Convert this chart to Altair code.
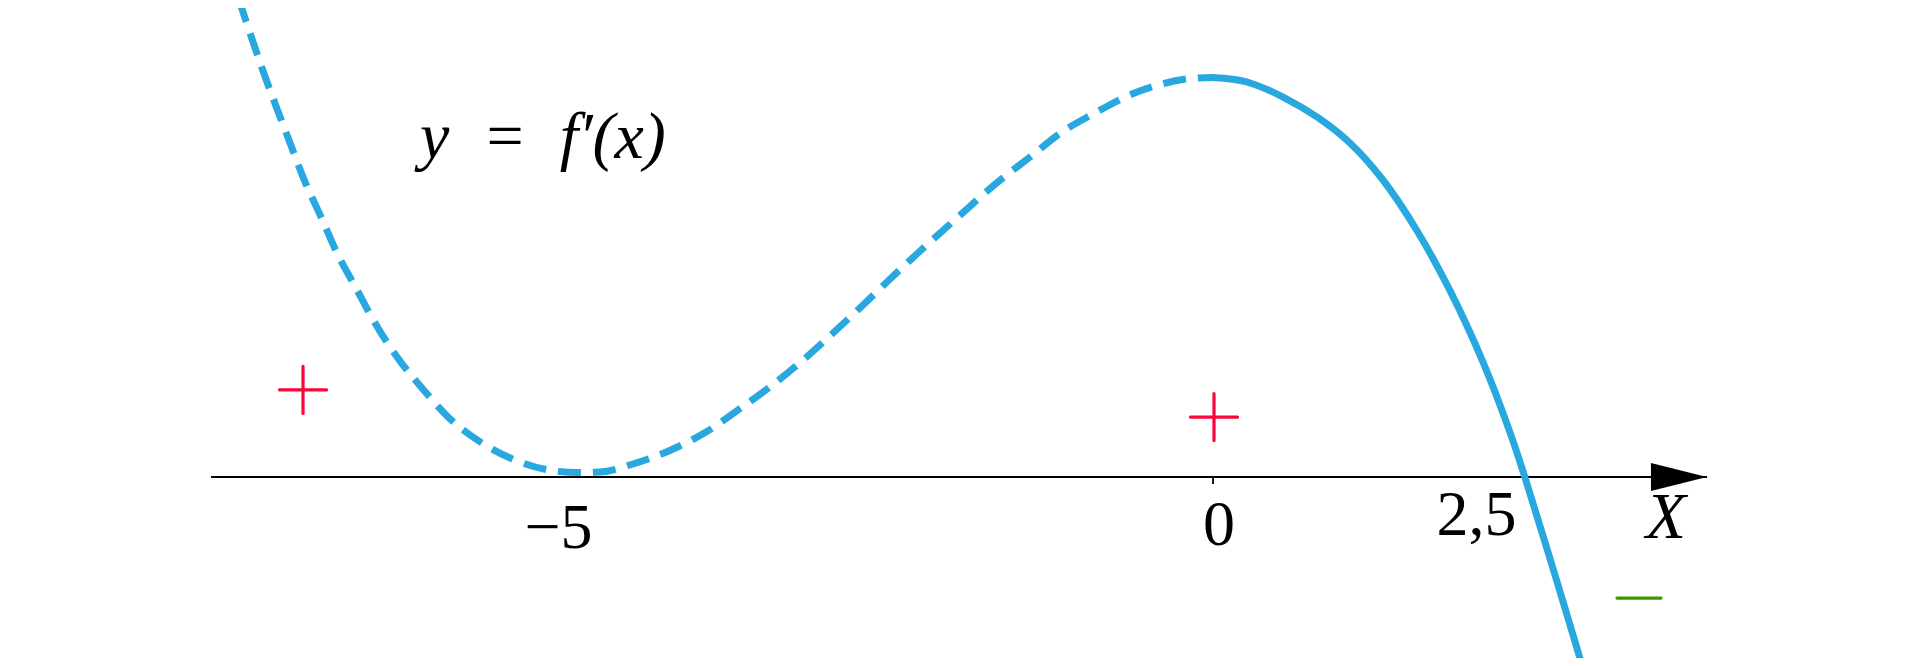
import altair as alt
import pandas as pd

# ---- data (x in units of the X axis, y in units of f') ----
dash_x = [-7.730, -7.651, -7.548, -7.437, -7.325, -7.206, -7.079, -6.952, -6.802, -6.651,
          -6.476, -6.278, -6.071, -5.802, -5.540, -5.222, -5.040, -4.865, -4.603, -4.302,
          -4.024, -3.770, -3.508, -3.262, -3.024, -2.794, -2.563, -2.333, -2.024, -1.698,
          -1.452, -1.198, -0.952, -0.865, -0.643, -0.437, -0.135, 0.0]
dash_y = [74.76, 70.06, 64.11, 58.15, 52.35, 46.24, 40.75, 35.11, 29.62, 24.14,
          18.81, 13.95, 9.40, 5.33, 2.66, 0.94, 0.70, 0.78, 2.04, 4.23,
          7.05, 10.50, 14.26, 18.18, 22.41, 26.65, 31.03, 35.27, 40.75, 46.39,
          50.16, 54.08, 56.90, 57.84, 60.03, 61.44, 62.54, 62.62]

solid_x = [0.0, 0.15, 0.294, 0.556, 0.825, 1.087, 1.349, 1.619, 1.881, 2.143, 2.357, 2.476, 2.690, 2.944]
solid_y = [62.62, 62.35, 61.76, 59.56, 56.43, 52.35, 46.55, 38.6, 29.2, 18.0, 7.0, -0.08, -13.79, -30.5]

tick_values = [-5, 0, 2.5]
tick_labels = ["\u22125", "0", "2,5"]

plus_x = [-7.222, 0.008]
plus_y = [13.64, 9.40]
minus_x = [3.381]
minus_y = [-18.97]

axis_start = -7.952
axis_end = 3.921
arrow_x = [3.698]
zero_tick = [0]

equation_text = ["y\u2002=\u2002f\u2032(x)"]
equation_x = [-6.294]
equation_y = [50.0]
axis_name = ["X"]
axis_name_x = [3.595]

BLUE = "#29A8E0"
RED = "#F8063C"
GREEN = "#3C9A00"
FONT = "Liberation Serif"

xs = alt.Scale(domain=[-9.5635, 5.5476], nice=False, zero=False)
ys = alt.Scale(domain=[-28.37, 73.51], nice=False, zero=False)


def X(f="x"):
    return alt.X(f"{f}:Q", scale=xs, axis=None)


def Y(f="y"):
    return alt.Y(f"{f}:Q", scale=ys, axis=None)


dashed = alt.Chart(pd.DataFrame({"x": dash_x, "y": dash_y})).mark_line(
    color=BLUE, strokeWidth=7, strokeDash=[23, 12], interpolate="monotone",
    strokeCap="butt", clip=True
).encode(x=X(), y=Y())

solid = alt.Chart(pd.DataFrame({"x": solid_x, "y": solid_y})).mark_line(
    color=BLUE, strokeWidth=7, interpolate="catmull-rom", strokeCap="round", clip=True
).encode(x=X(), y=Y())

axis_line = alt.Chart(pd.DataFrame({"x": [axis_start], "x2": [axis_end], "y": [0]})).mark_rule(
    color="black", strokeWidth=1.8
).encode(x=X(), x2="x2:Q", y=Y())

arrow = alt.Chart(pd.DataFrame({"x": arrow_x, "y": [0]})).mark_point(
    shape="M -1 -0.5 L 1 0 L -1 0.5 Z", filled=True, size=3136, color="black",
    opacity=1, strokeWidth=0
).encode(x=X(), y=Y())

tick = alt.Chart(pd.DataFrame({"x": zero_tick, "y": [0], "y2": [-1.1]})).mark_rule(
    color="black", strokeWidth=1.8
).encode(x=X(), y=Y(), y2="y2:Q")

label_style = [(-24.5, 71), (6, 68), (-51.5, 58)]
labels = []
for v, t, (dx, dy) in zip(tick_values, tick_labels, label_style):
    labels.append(
        alt.Chart(pd.DataFrame({"x": [v], "y": [0], "t": [t]})).mark_text(
            font=FONT, fontSize=64, align="center", baseline="alphabetic",
            dx=dx, dy=dy, color="black"
        ).encode(x=X(), y=Y(), text="t:N")
    )

xname = alt.Chart(pd.DataFrame({"x": axis_name_x, "y": [0], "t": axis_name})).mark_text(
    font=FONT, fontSize=66, fontStyle="italic", align="center", baseline="alphabetic",
    dy=61, color="black"
).encode(x=X(), y=Y(), text="t:N")

equation = alt.Chart(pd.DataFrame({"x": equation_x, "y": equation_y, "t": equation_text})).mark_text(
    font=FONT, fontSize=66, fontStyle="italic", align="left", baseline="alphabetic",
    color="black"
).encode(x=X(), y=Y(), text="t:N")

plus = alt.Chart(pd.DataFrame({"x": plus_x, "y": plus_y})).mark_point(
    shape="M -1 0 L 1 0 M 0 -1 L 0 1", filled=False, size=2209, color=RED,
    strokeWidth=3.2, strokeCap="round", opacity=1
).encode(x=X(), y=Y())

minus = alt.Chart(pd.DataFrame({"x": minus_x, "y": minus_y})).mark_point(
    shape="M -1 0 L 1 0", filled=False, size=1936, color=GREEN,
    strokeWidth=3.2, strokeCap="round", opacity=1
).encode(x=X(), y=Y())

chart = alt.layer(
    axis_line, arrow, tick, dashed, solid, *labels, xname, equation, plus, minus
).properties(
    width=1904, height=650, padding=0,
    autosize=alt.AutoSizeParams(type="none"),
    background="white"
).configure_view(stroke=None)

chart.save("out.html", embed_options={"renderer": "svg", "actions": False})
